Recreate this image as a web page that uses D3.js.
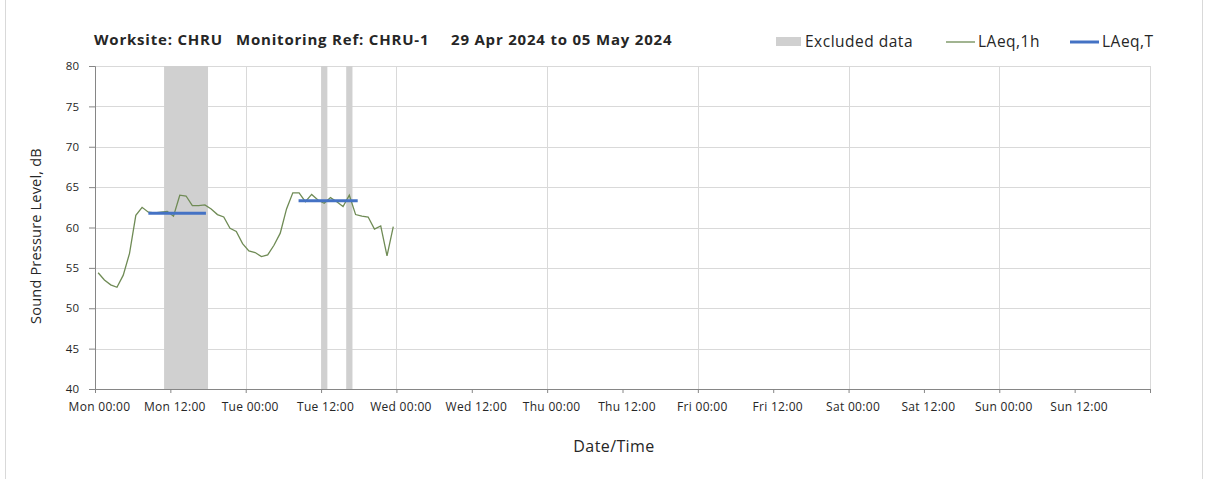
<!DOCTYPE html>
<html>
<head>
<meta charset="utf-8">
<script src="https://cdn.jsdelivr.net/npm/d3@7"></script>
<style>
  body { margin: 0; background: #fff; }
  text { font-family: "Open Sans", sans-serif; fill: #262626; }
</style>
</head>
<body>
<div id="chart"></div>
<script>
// hourly LAeq,1h values, first one at Mon 00:30
var firstHour = "2024-04-29T00:30:00Z";
var laeq1h = [54.4, 53.5, 52.9, 52.6, 54.1, 56.8, 61.5, 62.5, 61.9, 61.8,
              61.9, 62.0, 61.4, 64.0, 63.9, 62.7, 62.7, 62.8, 62.3, 61.6,
              61.3, 59.9, 59.5, 58.0, 57.1, 56.9, 56.4, 56.6, 57.8, 59.3,
              62.3, 64.3, 64.3, 63.2, 64.1, 63.4, 63.0, 63.7, 63.2, 62.6,
              64.0, 61.6, 61.4, 61.3, 59.8, 60.2, 56.5, 60.1];

var excludedFrom = ["2024-04-29T11:00:00Z", "2024-04-30T12:00:00Z", "2024-04-30T16:00:00Z"];
var excludedTo   = ["2024-04-29T18:00:00Z", "2024-04-30T13:00:00Z", "2024-04-30T17:00:00Z"];

var laeqTFrom  = ["2024-04-29T08:30:00Z", "2024-04-30T08:25:00Z"];
var laeqTTo    = ["2024-04-29T17:40:00Z", "2024-04-30T17:50:00Z"];
var laeqTValue = [61.75, 63.3];

var yTicks = [40, 45, 50, 55, 60, 65, 70, 75, 80];
var weekStart = "2024-04-29T00:00:00Z";
var weekEnd = "2024-05-06T00:00:00Z";

var titleParts = ["Worksite: CHRU", "Monitoring Ref: CHRU-1", "29 Apr 2024 to 05 May 2024"];
var legendLabels = ["Excluded data", "LAeq,1h", "LAeq,T"];

var svgWidth = 1208;
var svgHeight = 479;
var margin = { top: 66, right: 58, bottom: 90, left: 95 };
var width = svgWidth - margin.left - margin.right;
var height = svgHeight - margin.top - margin.bottom;

var svg = d3.select("#chart")
  .append("svg")
  .attr("width", svgWidth)
  .attr("height", svgHeight);

// chart border
svg.append("rect")
  .attr("x", 5.5).attr("y", -2)
  .attr("width", svgWidth - 11).attr("height", svgHeight + 4)
  .attr("fill", "none")
  .attr("stroke", "#d9d9d9");

var chartGroup = svg.append("g")
  .attr("transform", `translate(${margin.left}, ${margin.top})`);

var parse = d3.isoParse;
var x = d3.scaleUtc()
  .domain([parse(weekStart), parse(weekEnd)])
  .range([0, width]);

var y = d3.scaleLinear()
  .domain([40, 80])
  .range([height, 0]);

var t0 = parse(firstHour);
var series = laeq1h.map(function(v, i) {
  return { t: d3.utcHour.offset(t0, i), v: v };
});

var halfDays = d3.utcHour.every(12).range(parse(weekStart), d3.utcHour.offset(parse(weekEnd), 1));
var days = d3.utcDay.range(d3.utcDay.offset(parse(weekStart), 1), d3.utcHour.offset(parse(weekEnd), 1));

// horizontal gridlines
chartGroup.append("g")
  .selectAll("line")
  .data(yTicks.slice(1))
  .enter()
  .append("line")
  .attr("x1", 0).attr("x2", width)
  .attr("y1", d => Math.round(y(d)) + 0.5)
  .attr("y2", d => Math.round(y(d)) + 0.5)
  .attr("stroke", "#d9d9d9");

// vertical gridlines at midnight
chartGroup.append("g")
  .selectAll("line")
  .data(days)
  .enter()
  .append("line")
  .attr("x1", d => Math.round(x(d)) + 0.5)
  .attr("x2", d => Math.round(x(d)) + 0.5)
  .attr("y1", 0).attr("y2", height)
  .attr("stroke", "#d9d9d9");

// excluded periods
chartGroup.append("g")
  .selectAll("rect")
  .data(excludedFrom.map((f, i) => [parse(f), parse(excludedTo[i])]))
  .enter()
  .append("rect")
  .attr("x", d => x(d[0]))
  .attr("width", d => x(d[1]) - x(d[0]))
  .attr("y", 0)
  .attr("height", height)
  .attr("fill", "#d0d0d0");

// y axis
var leftAxis = d3.axisLeft(y).tickValues(yTicks).tickSize(6).tickPadding(10);
var yAxis = chartGroup.append("g").call(leftAxis);
yAxis.select(".domain").attr("stroke", "#868686");
yAxis.selectAll(".tick line").attr("stroke", "#868686");
yAxis.selectAll("text")
  .style("font-size", "11.5px")
  .style("font-family", "'Open Sans', sans-serif")
  .attr("fill", "#404040");

// x axis
var bottomAxis = d3.axisBottom(x)
  .tickValues(halfDays)
  .tickSize(4)
  .tickPadding(9)
  .tickFormat(d3.utcFormat("%a %H:%M"));
var xAxis = chartGroup.append("g")
  .attr("transform", `translate(0, ${height})`)
  .call(bottomAxis);
xAxis.select(".domain").attr("stroke", "#868686");
xAxis.selectAll(".tick line").attr("stroke", "#868686");
xAxis.selectAll(".tick")
  .filter(d => +d === +parse(weekEnd))
  .select("text").remove();
xAxis.selectAll("text")
  .attr("dx", 4)
  .style("font-size", "12px")
  .style("letter-spacing", "0.3px")
  .style("font-family", "'Open Sans', sans-serif")
  .attr("fill", "#404040");

// LAeq,1h line
var line = d3.line()
  .x(d => x(d.t))
  .y(d => y(d.v));

chartGroup.append("path")
  .datum(series)
  .attr("d", line)
  .attr("fill", "none")
  .attr("stroke", "#6f8b55")
  .attr("stroke-width", 1.3);

// LAeq,T periods
chartGroup.append("g")
  .selectAll("line")
  .data(laeqTValue)
  .enter()
  .append("line")
  .attr("x1", (d, i) => x(parse(laeqTFrom[i])))
  .attr("x2", (d, i) => x(parse(laeqTTo[i])))
  .attr("y1", d => y(d))
  .attr("y2", d => y(d))
  .attr("stroke", "#4472c4")
  .attr("stroke-width", 3);

// axis titles
svg.append("text")
  .attr("transform", "rotate(-90)")
  .attr("x", -236)
  .attr("y", 41)
  .attr("text-anchor", "middle")
  .style("font-size", "14.5px")
  .style("letter-spacing", "0.2px")
  .text("Sound Pressure Level, dB");

svg.append("text")
  .attr("x", 614)
  .attr("y", 452)
  .attr("text-anchor", "middle")
  .style("font-size", "16px")
  .style("letter-spacing", "0.4px")
  .text("Date/Time");

// title
var titleX = [94, 236, 451];
svg.append("g")
  .selectAll("text")
  .data(titleParts)
  .enter()
  .append("text")
  .attr("x", (d, i) => titleX[i])
  .attr("y", 45)
  .style("font-size", "15px")
  .style("letter-spacing", "0.8px")
  .style("font-weight", "bold")
  .attr("fill", "#000")
  .text(d => d);

// legend
var legend = svg.append("g");
legend.append("rect")
  .attr("x", 776).attr("y", 37)
  .attr("width", 25).attr("height", 9)
  .attr("fill", "#d0d0d0");
legend.append("line")
  .attr("x1", 946).attr("x2", 975)
  .attr("y1", 42).attr("y2", 42)
  .attr("stroke", "#6f8b55").attr("stroke-width", 1.3);
legend.append("line")
  .attr("x1", 1070).attr("x2", 1099)
  .attr("y1", 42).attr("y2", 42)
  .attr("stroke", "#4472c4").attr("stroke-width", 3);
var legendX = [805, 978, 1102];
legend.selectAll("text.lg")
  .data(legendLabels)
  .enter()
  .append("text")
  .attr("class", "lg")
  .attr("x", (d, i) => legendX[i])
  .attr("y", 47)
  .style("font-size", "15.5px")
  .style("letter-spacing", "0.5px")
  .text(d => d);
</script>
</body>
</html>
